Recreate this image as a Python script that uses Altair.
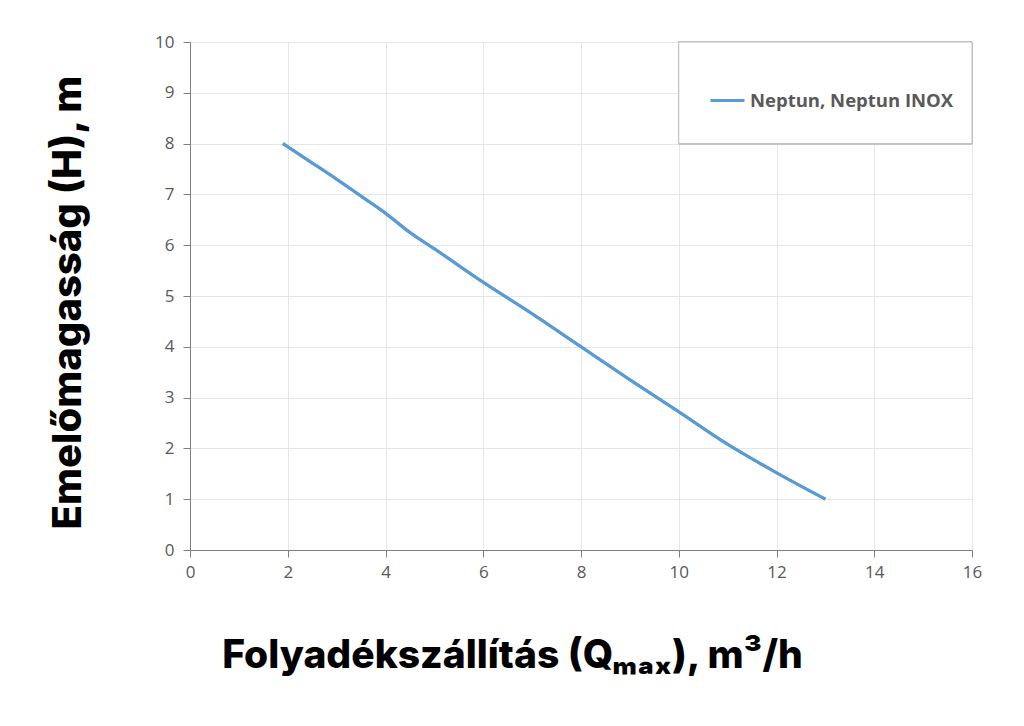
import altair as alt
import pandas as pd

# data
flow = [1.9, 2.5, 3.0, 3.6, 4.0, 4.5, 5.0, 6.0, 7.0, 8.0, 9.0, 10.0, 11.0, 12.0, 13.0]
head = [8.0, 7.62, 7.3, 6.9, 6.63, 6.25, 5.93, 5.27, 4.65, 4.0, 3.35, 2.72, 2.08, 1.52, 1.0]
series_name = "Neptun, Neptun INOX"
x_ticks = [0, 2, 4, 6, 8, 10, 12, 14, 16]
y_ticks = [0, 1, 2, 3, 4, 5, 6, 7, 8, 9, 10]

df = pd.DataFrame({"Q": flow, "H": head, "series": [series_name] * len(flow)})

title_font = "Inter"
tick_font = "Open Sans"

x_enc = alt.X(
    "Q:Q",
    scale=alt.Scale(domain=[0, 16], nice=False),
    axis=alt.Axis(
        values=x_ticks,
        title="Folyadékszállítás (Qₘₐₓ), m³/h",
        titleFont=title_font,
        titleFontSize=39,
        titleFontWeight=800,
        titleColor="#000000",
        titleX=322,
        titleY=105,
        titleBaseline="middle",
        titleAlign="center",
        labelFont=tick_font,
        labelFontSize=17,
        labelColor="#595959",
        labelPadding=7,
        labelFlush=False,
        tickSize=7,
        tickColor="#7f7f7f",
        domainColor="#7f7f7f",
        gridColor="#e6e6e6",
    ),
)
y_enc = alt.Y(
    "H:Q",
    scale=alt.Scale(domain=[0, 10], nice=False),
    axis=alt.Axis(
        values=y_ticks,
        title="Emelőmagasság (H), m",
        titleFont=title_font,
        titleFontSize=40,
        titleFontWeight=800,
        titleColor="#000000",
        titleAngle=-90,
        titleX=-122,
        titleY=260,
        titleBaseline="middle",
        titleAlign="center",
        labelFont=tick_font,
        labelFontSize=17,
        labelColor="#595959",
        labelPadding=9,
        labelFlush=False,
        tickSize=7,
        tickColor="#7f7f7f",
        domainColor="#7f7f7f",
        gridColor="#e6e6e6",
    ),
)

base = alt.Chart(df)

legend_box = base.mark_rect(fill="white", stroke="#bfbfbf", strokeWidth=1).encode(
    x=alt.datum(10), x2=alt.datum(16), y=alt.datum(10), y2=alt.datum(8)
)

line = base.mark_line(strokeWidth=3, interpolate="monotone").encode(
    x=x_enc,
    y=y_enc,
    color=alt.Color(
        "series:N",
        scale=alt.Scale(domain=[series_name], range=["#5B9BD5"]),
        legend=alt.Legend(
            title=None,
            orient="none",
            legendX=519,
            legendY=40,
            symbolType="stroke",
            symbolSize=1156,
            symbolStrokeWidth=3,
            labelFont=tick_font,
            labelFontSize=18.5,
            labelFontWeight="bold",
            labelColor="#595959",
            labelOffset=4,
            labelLimit=400,
            padding=0,
        ),
    ),
)

chart = (
    alt.layer(line, legend_box, line)
    .properties(
        width=782,
        height=508,
        autosize=alt.AutoSizeParams(type="none"),
        padding={"left": 182, "top": 34, "right": 30, "bottom": 150},
    )
    .configure_view(stroke="#bfbfbf", strokeWidth=1)
)

chart.save("out.html", embed_options={"renderer": "svg", "actions": False})
